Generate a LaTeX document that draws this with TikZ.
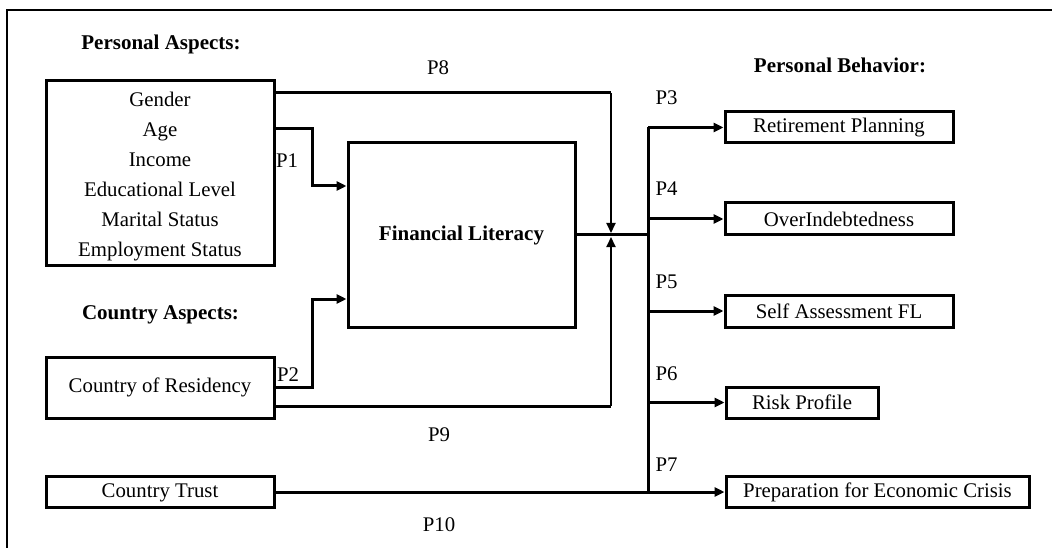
\documentclass[tikz,border=0pt]{standalone}
\usepackage{fontspec}
\setmainfont{Liberation Serif}
\usetikzlibrary{arrows.meta}
\begin{document}
\begin{tikzpicture}[x=1pt,y=-1pt,
  every node/.style={font=\fontsize{20.8}{30}\selectfont},
  box/.style={draw,line width=3pt,inner sep=0pt,minimum height=31pt,align=center},
  lbl/.style={inner sep=0pt,text height=13.8pt,text depth=0pt},
  head/.style={lbl,font=\fontsize{21}{25}\selectfont\bfseries},
  con/.style={line width=3pt},
  arr/.style={con,-{Triangle[length=10pt,width=9pt]}},
  thin arr/.style={line width=2pt,-{Triangle[length=10pt,width=9pt]}}]
\useasboundingbox (0,0) rectangle (1052,548);
% frame
\draw[line width=2pt] (7,560) -- (7,10) -- (1060,10);
% headings
\node[head] (hpa) at (161,43) {Personal Aspects:};
\node[head] (hca) at (160.5,313) {Country Aspects:};
\node[head] (hpb) at (840,66) {Personal Behavior:};
% boxes
\node[box,minimum width=228pt,minimum height=184pt] (pa) at (160,173)
  {\rule{0pt}{21pt}Gender\\Age\\Income\\Educational Level\\Marital Status\\Employment Status};
\node[box,minimum width=227pt,minimum height=184pt,font=\fontsize{21}{25}\selectfont\bfseries] (fl) at (461.5,235) {Financial Literacy};
\node[box,minimum width=228pt,minimum height=61pt] (cr) at (160,387.5) {Country of Residency};
\node[box,minimum width=228pt] (ct) at (160,492) {\rule{0pt}{15pt}Country Trust};
\node[box,minimum width=228pt] (rp) at (839,127.5) {Retirement Planning};
\node[box,minimum width=228pt,minimum height=32pt] (oi) at (839,219) {OverIndebtedness};
\node[box,minimum width=228pt,minimum height=32pt] (sa) at (839,311) {Self Assessment FL};
\node[box,minimum width=152pt] (rk) at (802,402.5) {Risk Profile};
\node[box,minimum width=303pt] (pe) at (877.5,492) {Preparation for Economic Crisis};
% coordinates
\coordinate (jt) at (611,233);
\coordinate (jb) at (611,237);
\coordinate (tt) at (648,127.5);
\coordinate (tb) at (648,492);
% connectors
\draw[con] (pa.east |- 0,93) -- (611,93);
\draw[thin arr] (611,93) -- (jt);
\draw[arr] (pa.east |- 0,129) -- (312,129) |- (fl.west |- 0,186);
\draw[arr] (cr.east |- 0,387) -- (312,387) |- (fl.west |- 0,299);
\draw[con] (cr.east |- 0,406) -- (611,406);
\draw[thin arr] (611,406) -- (jb);
\draw[con] (fl.east) -- (fl.east -| tt);
\draw[con] (tt) -- (tb);
\draw[arr] (tt) -- (rp.west);
\draw[arr] (oi.west -| tt) -- (oi.west);
\draw[arr] (sa.west -| tt) -- (sa.west);
\draw[arr] (rk.west -| tt) -- (rk.west);
\draw[arr] (ct.east) -- (pe.west);
% labels
\node[lbl] (p1) at (287,161) {P1};
\node[lbl] (p2) at (288,375) {P2};
\node[lbl] (p3) at (666.5,98) {P3};
\node[lbl] (p4) at (666.5,189) {P4};
\node[lbl] (p5) at (666.5,282) {P5};
\node[lbl] (p6) at (666.5,374) {P6};
\node[lbl] (p7) at (666.5,465) {P7};
\node[lbl] (p8) at (438,68) {P8};
\node[lbl] (p9) at (439,435) {P9};
\node[lbl] (p10) at (439,525) {P10};
\end{tikzpicture}
\end{document}
